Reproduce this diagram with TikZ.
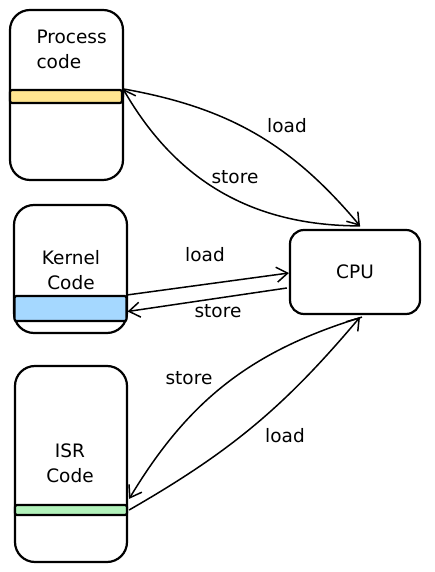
\documentclass[tikz,border=0pt]{standalone}
\usepackage{fontspec}
\setmainfont{DejaVu Sans}
\usepackage{xcolor}
\usepackage{tikz}
\usetikzlibrary{shapes,arrows,arrows.meta,positioning,calc}
\definecolor{bandyellow}{HTML}{FFE590}
\definecolor{bandblue}{HTML}{A5D8FF}
\definecolor{bandgreen}{HTML}{B2F2BB}
\tikzset{>={Straight Barb[length=11pt,width=15pt]}}
\tikzset{
  membox/.style={draw, line width=2.2pt, rounded corners=20pt, minimum width=113pt, inner sep=0pt},
  band/.style={draw, line width=2.2pt, rounded corners=2pt, minimum width=112pt, inner sep=0pt},
  flow/.style={->, line width=1.5pt},
  lbl/.style={font=\fontsize{18.5}{25}\selectfont}
}

\begin{document}
\begin{tikzpicture}[x=1pt, y=1pt, every node/.style={font=\fontsize{18.5}{25}\selectfont}]
			\useasboundingbox (0,0) rectangle (434,572);
			% memory boxes
			\node[membox, minimum height=170pt] (proc) at (66.5,477) {};
			\node[band, fill=bandyellow, minimum height=13pt] (pband) at (66,475.5) {};
			\node[align=left, anchor=west] (ptext) at (33,523) {Process\\code};
			\node[membox, minimum height=128pt] (kern) at (70.5,303) {};
			\node[band, fill=bandblue, minimum height=25pt] (kband) at (70.5,263.5) {};
			\node[align=center] (ktext) at (71,302) {Kernel\\Code};
			\node[membox, minimum height=196pt, minimum width=112pt] (isr) at (71,108) {};
			\node[band, fill=bandgreen, minimum height=10pt] (iband) at (71,62) {};
			\node[align=center] (itext) at (70,109) {ISR\\Code};
			% cpu
			\node[draw, line width=2.2pt, rounded corners=14pt, minimum width=130pt, minimum height=84pt] (cpu) at (355,300) {CPU};
			% process <-> cpu
			\draw[flow] (pband.north east) to[bend left=20] ([xshift=5pt,yshift=3pt]cpu.north);
			\draw[flow] ([xshift=5pt,yshift=3pt]cpu.north) to[bend left=30] (pband.north east);
			\node[lbl] (pload) at (287,446) {load};
			\node[lbl] (pstore) at (235,395) {store};
			% kernel <-> cpu
			\draw[flow] (kband.north east) -- ([yshift=-1pt]cpu.west);
			\draw[flow] ([xshift=-2pt,yshift=-16pt]cpu.west) -- ([yshift=-3pt]kband.east);
			\node[lbl] (kload) at (205,317) {load};
			\node[lbl] (kstore) at (218,261) {store};
			% isr <-> cpu
			\draw[flow] ([xshift=7pt,yshift=-2pt]cpu.south) to[bend right=21] ([xshift=1pt,yshift=5pt]iband.north east);
			\draw[flow] ([xshift=1pt]iband.east) to[bend right=10] ([xshift=5pt,yshift=-2pt]cpu.south);
			\node[lbl] (istore) at (189,194) {store};
			\node[lbl] (iload) at (285,136) {load};
		\end{tikzpicture}
\end{document}
